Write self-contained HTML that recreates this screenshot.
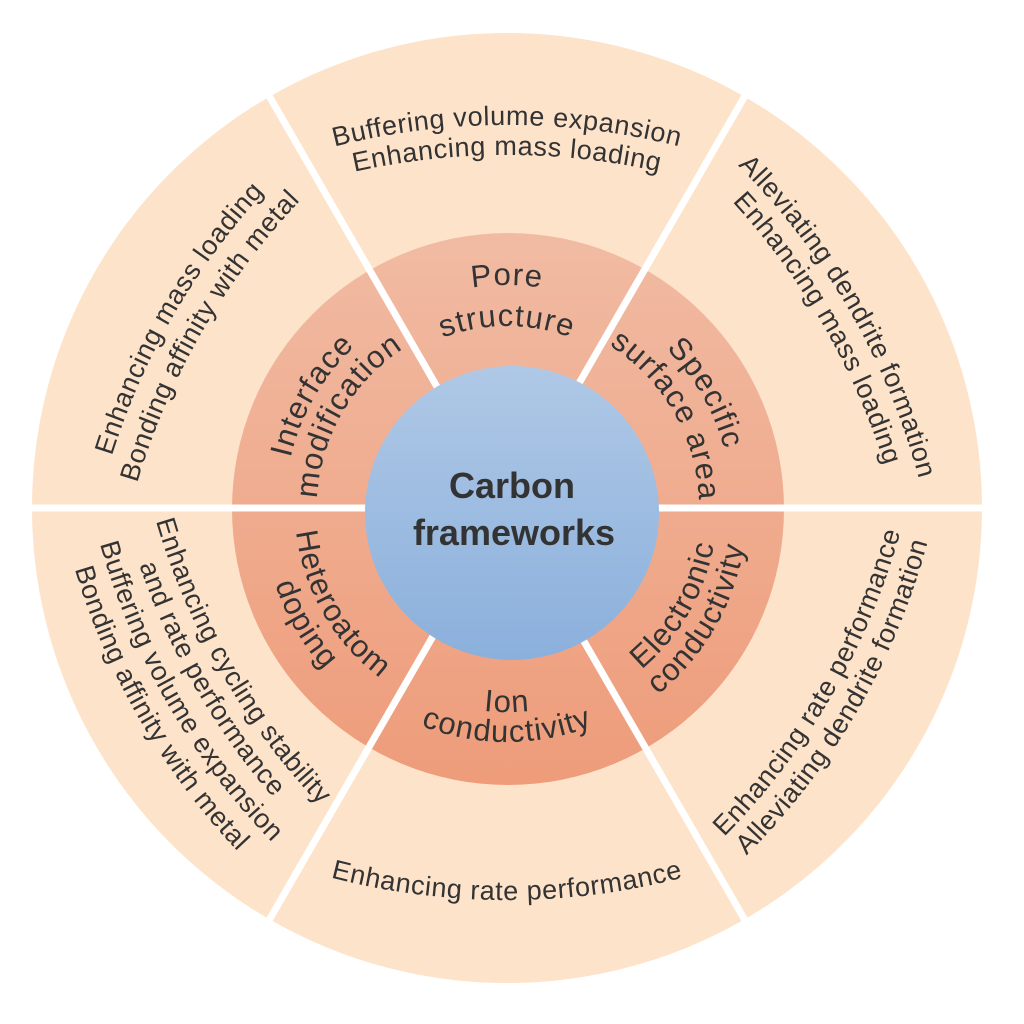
<!DOCTYPE html>
<html><head><meta charset="utf-8"><style>
html,body{margin:0;padding:0;background:#fff;}
svg{display:block;}
text{font-family:"Liberation Sans","DejaVu Sans",sans-serif;fill:#333;}
.o{font-size:27px;letter-spacing:0.6px;}
.m{font-size:31px;letter-spacing:1.2px;}
.c{font-size:36px;font-weight:bold;}
</style></head><body>
<svg width="1024" height="1024" viewBox="0 0 1024 1024" xmlns="http://www.w3.org/2000/svg">
<defs>
<linearGradient id="gm" x1="0" y1="0" x2="0" y2="1"><stop offset="0" stop-color="#f1bba3"/><stop offset="1" stop-color="#ee9c7a"/></linearGradient>
<linearGradient id="gc" x1="0" y1="0" x2="0" y2="1"><stop offset="0" stop-color="#afc8e6"/><stop offset="1" stop-color="#8bb0dc"/></linearGradient>
<path id="t1" d="M211 190.6 A700 700 0 0 1 803 190.6"/>
<path id="t2" d="M211 220.6 A700 700 0 0 1 803 220.6"/>
<path id="t3" d="M336.2 364.6 A223 223 0 0 1 677.8 364.6"/>
<path id="t4" d="M367.6 391 A182 182 0 0 1 646.4 391"/>
<path id="b1" d="M211 834.4 A700 700 0 0 0 803 834.4"/>
<path id="b2" d="M350.7 639.2 A204 204 0 0 0 663.3 639.2"/>
<path id="b3" d="M327.8 658.5 A234 234 0 0 0 686.2 658.5"/>
<path id="ul1" d="M82.4 604.6 A700 700 0 0 1 378.4 92"/>
<path id="ul2" d="M111 621.1 A700 700 0 0 1 407 108.5"/>
<path id="ul3" d="M298.3 583.9 A222 222 0 0 1 468.4 289.3"/>
<path id="ul4" d="M328.4 573 A190 190 0 0 1 473.9 320.8"/>
<path id="ur1" d="M644.3 87 A700 700 0 0 1 940.3 599.6"/>
<path id="ur2" d="M618.3 102 A700 700 0 0 1 914.3 614.6"/>
<path id="ur3" d="M546.2 286.4 A225 225 0 0 1 718.5 585"/>
<path id="ur4" d="M540.4 318.9 A192 192 0 0 1 687.5 573.7"/>
<path id="lr1" d="M627 919 A700 700 0 0 0 923 406.4"/>
<path id="lr2" d="M652.9 934 A700 700 0 0 0 948.9 421.4"/>
<path id="lr3" d="M543.5 714.9 A210 210 0 0 0 704.4 436.2"/>
<path id="lr4" d="M548.8 744.4 A240 240 0 0 0 732.6 425.9"/>
<path id="ll1" d="M130 383.9 A700 700 0 0 0 426 896.5"/>
<path id="ll2" d="M104 398.9 A700 700 0 0 0 400 911.5"/>
<path id="ll3" d="M76.3 414.9 A700 700 0 0 0 372.3 927.5"/>
<path id="ll4" d="M48.6 430.9 A700 700 0 0 0 344.6 943.5"/>
<path id="ll5" d="M307.7 435.5 A212 212 0 0 0 470.1 716.8"/>
<path id="ll6" d="M277.6 424.6 A244 244 0 0 0 464.5 748.3"/>
</defs>
<circle cx="507" cy="508" r="475" fill="#fde3ca"/>
<circle cx="508" cy="509" r="276" fill="url(#gm)"/>
<g stroke="#fff" stroke-width="7">
<line x1="27" y1="508" x2="987" y2="508"/>
<line x1="507" y1="508" x2="747" y2="92.3"/>
<line x1="507" y1="508" x2="267" y2="92.3"/>
<line x1="507" y1="508" x2="267" y2="923.7"/>
<line x1="507" y1="508" x2="747" y2="923.7"/>
</g>
<circle cx="512" cy="513" r="147" fill="url(#gc)"/>
<text class="c" x="512" y="498" text-anchor="middle">Carbon</text>
<text class="c" x="514" y="545" text-anchor="middle">frameworks</text>

<g text-anchor="middle">
<text class="o"><textPath href="#t1" startOffset="50%">Buffering volume expansion</textPath></text>
<text class="o"><textPath href="#t2" startOffset="50%">Enhancing mass loading</textPath></text>
<text class="m"><textPath href="#t3" startOffset="50%">Pore</textPath></text>
<text class="m"><textPath href="#t4" startOffset="50%">structure</textPath></text>
<text class="o"><textPath href="#b1" startOffset="50%">Enhancing rate performance</textPath></text>
<text class="m"><textPath href="#b2" startOffset="50%">Ion</textPath></text>
<text class="m"><textPath href="#b3" startOffset="50%">conductivity</textPath></text>
<text class="o"><textPath href="#ul1" startOffset="50%">Enhancing mass loading</textPath></text>
<text class="o"><textPath href="#ul2" startOffset="50%">Bonding affinity with metal</textPath></text>
<text class="m"><textPath href="#ul3" startOffset="50%">Interface</textPath></text>
<text class="m"><textPath href="#ul4" startOffset="50%">modification</textPath></text>
<text class="o"><textPath href="#ur1" startOffset="50%">Alleviating dendrite formation</textPath></text>
<text class="o"><textPath href="#ur2" startOffset="50%">Enhancing mass loading</textPath></text>
<text class="m"><textPath href="#ur3" startOffset="50%">Specific</textPath></text>
<text class="m"><textPath href="#ur4" startOffset="50%">surface area</textPath></text>
<text class="o"><textPath href="#lr1" startOffset="50%">Enhancing rate performance</textPath></text>
<text class="o"><textPath href="#lr2" startOffset="50%">Alleviating dendrite formation</textPath></text>
<text class="m"><textPath href="#lr3" startOffset="50%">Electronic</textPath></text>
<text class="m"><textPath href="#lr4" startOffset="50%">conductivity</textPath></text>
<text class="o"><textPath href="#ll1" startOffset="50%">Enhancing cycling stability</textPath></text>
<text class="o"><textPath href="#ll2" startOffset="50%">and rate performance</textPath></text>
<text class="o"><textPath href="#ll3" startOffset="50%">Buffering volume expansion</textPath></text>
<text class="o"><textPath href="#ll4" startOffset="50%">Bonding affinity with metal</textPath></text>
<text class="m"><textPath href="#ll5" startOffset="50%">Heteroatom</textPath></text>
<text class="m"><textPath href="#ll6" startOffset="50%">doping</textPath></text>
</g>
</svg>
</body></html>
